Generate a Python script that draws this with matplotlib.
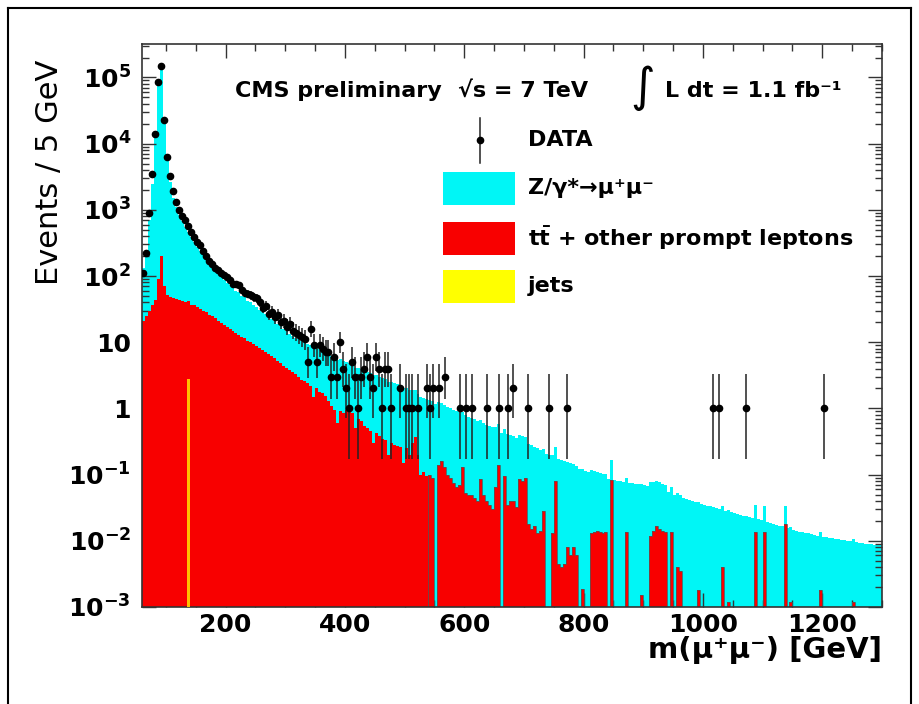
import numpy as np
import matplotlib
matplotlib.use("Agg")
import matplotlib.pyplot as plt
from matplotlib.patches import Rectangle
from matplotlib.lines import Line2D
from matplotlib.ticker import FixedLocator, LogLocator, MultipleLocator, NullFormatter

# 5 GeV bins, 60 - 1300 GeV
bin_lo = 60
bin_hi = 1300
bin_w = 5

# Z/gamma* -> mumu, one row = 10 bins (50 GeV)
dy = [
    110, 225, 670, 2460, 11950, 74900, 139800, 21930, 5450, 2550,          # 60
    1450, 1060, 800, 640, 515, 425, 350, 296, 244, 210,                    # 110
    176, 148, 130, 110, 98, 85, 77, 68, 62, 57,                            # 160
    51, 46, 43.5, 38.5, 36, 32, 30.5, 27, 25.5, 23,                        # 210
    21.5, 19.5, 18.6, 16.7, 15.5, 13.8, 12.9, 11.4, 10.5, 9.4,             # 260
    8.8, 8.2, 8.1, 7.7, 7.5, 7.0, 6.9, 7.1, 6.4, 6.0,                      # 310
    5.8, 5.5, 5.3, 5.1, 4.95, 4.8, 4.6, 4.4, 4.1, 3.9,                     # 360
    3.7, 3.55, 3.4, 3.3, 3.2, 3.1, 3.0, 2.9, 2.8, 2.65,                    # 410
    2.55, 2.45, 2.35, 2.25, 2.15, 2.05, 1.95, 1.88, 1.78, 1.7,             # 460
    1.6, 1.52, 1.46, 1.4, 1.35, 1.3, 1.25, 1.2, 1.15, 1.1,                 # 510
    1.05, 1.0, 0.96, 0.92, 0.88, 0.84, 0.8, 0.76, 0.73, 0.7,               # 560
    0.67, 0.64, 0.61, 0.58, 0.555, 0.53, 0.51, 0.49, 0.465, 0.44,          # 610
    0.42, 0.40, 0.38, 0.36, 0.345, 0.33, 0.315, 0.30, 0.285, 0.27,         # 660
    0.262, 0.245, 0.238, 0.225, 0.218, 0.205, 0.197, 0.186, 0.18, 0.17,    # 710
    0.162, 0.156, 0.148, 0.142, 0.135, 0.13, 0.123, 0.119, 0.113, 0.108,   # 760
    0.103, 0.1, 0.096, 0.094, 0.09, 0.089, 0.086, 0.084, 0.082, 0.08,      # 810
    0.079, 0.078, 0.076, 0.075, 0.074, 0.073, 0.072, 0.07, 0.069, 0.067,   # 860
    0.066, 0.064, 0.062, 0.061, 0.058, 0.056, 0.055, 0.052, 0.05, 0.048,   # 910
    0.046, 0.045, 0.043, 0.041, 0.04, 0.039, 0.037, 0.036, 0.035, 0.034,   # 960
    0.033, 0.032, 0.031, 0.030, 0.0292, 0.0284, 0.0276, 0.0268, 0.026, 0.0252,  # 1010
    0.0245, 0.024, 0.0235, 0.023, 0.0224, 0.0218, 0.0212, 0.0206, 0.02, 0.0194,  # 1060
    0.0185, 0.018, 0.0175, 0.017, 0.0165, 0.016, 0.0155, 0.015, 0.0146, 0.0142,  # 1110
    0.0138, 0.0135, 0.0132, 0.0129, 0.0126, 0.0123, 0.012, 0.0118, 0.0116, 0.0114,  # 1160
    0.0112, 0.011, 0.0108, 0.0106, 0.0104, 0.0102, 0.01, 0.0098, 0.0096, 0.0095,  # 1210
    0.0093, 0.0092, 0.009, 0.0089, 0.0088, 0.0087, 0.0086, 0.0085,              # 1260
]

# ttbar + other prompt leptons
ttbar = [
    21, 25, 30, 36, 44, 90, 200, 70, 52, 49,                               # 60
    47, 45, 44, 42, 40, 39, 37, 36, 34, 32,                                # 110
    30, 28.5, 26, 24.5, 23, 21, 19.5, 18, 17, 16,                          # 160
    15, 14, 13, 12, 11.5, 10.5, 10, 9.3, 8.7, 8.2,                         # 210
    7.6, 7.1, 6.6, 6.1, 5.7, 5.2, 4.8, 4.4, 4.1, 3.8,                      # 260
    3.6, 3.3, 3.0, 2.7, 2.6, 2.4, 2.2, 1.5, 2.0, 1.8,                      # 310
    1.7, 1.55, 1.3, 1.1, 0.95, 0.6, 0.9, 0.85, 0.95, 0.9,                  # 360
    0.85, 0.5, 0.7, 0.65, 0.55, 0.5, 0.45, 0.3, 0.42, 0.38,                # 410
    0.35, 0.33, 0.2, 0.3, 0.28, 0.27, 0.26, 0.15, 0.25, 0.2,               # 460
    0.3, 0.37, 0.2, 0.1, 0.11, 0.095, 0.1, 0.09, 0, 0.14,                  # 510
    0.16, 0.13, 0.1, 0.09, 0.075, 0.065, 0.07, 0.13, 0.052, 0.05,          # 560
    0.05, 0.045, 0.04, 0.085, 0.05, 0.04, 0.035, 0.03, 0.065, 0.14,        # 610
    0, 0.095, 0.035, 0.04, 0.04, 0.032, 0.085, 0.08, 0.09, 0.018,          # 660
    0.015, 0.017, 0.013, 0.014, 0.028, 0, 0, 0.013, 0.08, 0.0045,          # 710
    0.004, 0.0045, 0.008, 0.006, 0.008, 0.006, 0, 0.0019, 0, 0,            # 760
    0.013, 0.0135, 0.014, 0.0135, 0.013, 0.0135, 0, 0.082, 0, 0,           # 810
    0, 0, 0.0135, 0, 0, 0, 0, 0.0015, 0, 0,                                # 860
    0.012, 0.014, 0.017, 0.015, 0.014, 0.0135, 0, 0.0135, 0, 0.004,        # 910
    0.0035, 0, 0, 0, 0, 0, 0.0018, 0, 0, 0,                                # 960
    0, 0, 0, 0, 0.004, 0, 0.0012, 0, 0, 0,                                 # 1010
    0, 0, 0, 0, 0, 0.0135, 0, 0, 0.0135, 0,                                # 1060
    0, 0, 0, 0, 0, 0.018, 0, 0.0012, 0, 0,                                 # 1110
    0, 0, 0, 0, 0, 0, 0, 0.0018, 0, 0,                                     # 1160
    0, 0, 0, 0, 0, 0, 0, 0, 0.0012, 0,                                     # 1210
    0, 0, 0, 0, 0, 0, 0, 0,                                                # 1260
]

# jets (only one visible bin)
jets_mass = [135]
jets_val = [2.8]

# data counts, bins 60 .. 475
data_lo = [
    110, 220, 900, 3500, 14000, 84000, 150000, 23000, 6200, 3200,
    1900, 1300, 1000, 800, 690, 560, 470, 390, 330, 290,
    240, 200, 171, 150, 134, 122, 113, 102, 95, 86,
    77, 75, 72, 62, 56, 54, 51, 48, 46, 40,
    33, 35, 27, 29, 24, 26, 20, 21, 17, 19,
    15, 14, 13, 12, 11, 5, 16, 9, 5, 9,
    8, 7, 7, 3, 6, 3, 10, 4, 2, 1,
    5, 3, 1, 3, 4, 6, 3, 2, 6, 4,
    1, 4, 4, 1,
]
# sparse data above 480 GeV (bin low edge, count)
data_hi_mass = [490, 500, 505, 510, 520, 535, 540, 545, 555, 565, 590, 600, 610,
                635, 655, 670, 680, 705, 740, 770, 1015, 1025, 1070, 1200]
data_hi_count = [2, 1, 1, 1, 1, 2, 1, 2, 2, 3, 1, 1, 1,
                 1, 1, 1, 2, 1, 1, 1, 1, 1, 1, 1]

edges = np.arange(bin_lo, bin_hi + bin_w, bin_w)
centers = edges[:-1] + bin_w / 2
nb = len(edges) - 1
assert len(dy) == nb and len(ttbar) == nb

jets = np.zeros(nb)
for m, v in zip(jets_mass, jets_val):
    jets[(m - bin_lo) // bin_w] = v
data = np.zeros(nb)
data[:len(data_lo)] = data_lo
for m, c in zip(data_hi_mass, data_hi_count):
    data[(m - bin_lo) // bin_w] = c

red_top = np.array(ttbar) + jets
cyan_top = np.array(dy) + red_top

# poisson (garwood-like) intervals
has = data > 0
n = data[has]
lo = n * (1 - 1 / (9 * n) - 1 / (3 * np.sqrt(n))) ** 3
hi = (n + 1) * (1 - 1 / (9 * (n + 1)) + 1 / (3 * np.sqrt(n + 1))) ** 3

W, H = 920, 704


def fx(px):
    return px / W


def fy(py):
    return 1 - py / H


fig = plt.figure(figsize=(9.2, 7.04), dpi=100)
ax = fig.add_axes([fx(142), fy(607), 740 / W, 563 / H])
ax.set_yscale("log")

floor = 1e-6
ax.stairs(np.clip(cyan_top, floor, None), edges, fill=True, color="#00f6f6",
          baseline=floor, lw=0, zorder=1)
ax.stairs(np.clip(red_top, floor, None), edges, fill=True, color="#f80000",
          baseline=floor, lw=0, zorder=2)
# thin grey outline where the red histogram breaks up into spikes
k = (540 - bin_lo) // bin_w
ax.stairs(np.clip(red_top[k:], floor, None), edges[k:], color="#555555",
          baseline=floor, lw=0.7, alpha=0.8, zorder=2.5)
ax.stairs(np.clip(jets, floor, None), edges, fill=True, color="#ffbf00",
          baseline=floor, lw=0, zorder=3)
ax.errorbar(centers[has], n, yerr=[n - lo, hi - n], fmt="o", ms=4.5, color="black",
            ecolor="#222222", elinewidth=1.1, capsize=0, zorder=4)

ax.set_xlim(bin_lo, bin_hi)
ax.set_ylim(1e-3, 3.2e5)

ax.xaxis.set_major_locator(FixedLocator([200, 400, 600, 800, 1000, 1200]))
ax.xaxis.set_minor_locator(MultipleLocator(50))
ax.set_xticklabels(["200", "400", "600", "800", "1000", "1200"], fontsize=18, fontweight="bold")

yt = [1e-3, 1e-2, 1e-1, 1, 10, 1e2, 1e3, 1e4, 1e5]
ylab = [r"$\mathbf{10^{-3}}$", r"$\mathbf{10^{-2}}$", r"$\mathbf{10^{-1}}$", "1", "10",
        r"$\mathbf{10^{2}}$", r"$\mathbf{10^{3}}$", r"$\mathbf{10^{4}}$", r"$\mathbf{10^{5}}$"]
ax.yaxis.set_major_locator(FixedLocator(yt))
ax.yaxis.set_minor_locator(LogLocator(base=10, subs=np.arange(2, 10), numticks=100))
ax.yaxis.set_minor_formatter(NullFormatter())
ax.set_yticklabels(ylab, fontsize=18, fontweight="bold")

ax.tick_params(which="both", direction="in", top=True, right=True, width=1, color="#333333")
ax.tick_params(which="major", length=10)
ax.tick_params(which="minor", length=5)
ax.tick_params(axis="x", pad=4)
ax.tick_params(axis="y", pad=8)
for s in ax.spines.values():
    s.set_linewidth(1.2)
    s.set_color("#333333")

# axis titles
fig.text(fx(882), fy(650), "m(μ⁺μ⁻) [GeV]", ha="right", va="center",
         fontsize=21, fontweight="bold")
fig.text(fx(50), fy(60), "Events / 5 GeV", rotation=90, ha="center", va="top", fontsize=22)

# header
fig.text(fx(235), fy(97), "CMS preliminary", fontsize=16, fontweight="bold", va="baseline")
fig.text(fx(458), fy(97), "√s = 7 TeV", fontsize=16, fontweight="bold", va="baseline")
fig.text(fx(643), fy(88), "∫", fontsize=34, ha="center", va="center")
fig.text(fx(665), fy(97), "L dt = 1.1 fb⁻¹", fontsize=16, fontweight="bold", va="baseline")

# legend
fig.add_artist(Line2D([fx(480), fx(480)], [fy(118), fy(163)], transform=fig.transFigure,
                      color="#222222", lw=1.1))
fig.add_artist(Line2D([fx(480)], [fy(140)], transform=fig.transFigure, marker="o",
                      ms=4.5, color="black"))
fig.text(fx(528), fy(140), "DATA", fontsize=16, fontweight="bold", va="center")

boxes = [(172, "#00f6f6", "Z/γ*→μ⁺μ⁻"),
         (222, "#f80000", r"t$\mathbf{\bar{t}}$ + other prompt leptons"),
         (270, "#ffff00", "jets")]
for top, col, label in boxes:
    fig.add_artist(Rectangle((fx(443), fy(top + 33)), 72 / W, 33 / H,
                             transform=fig.transFigure, color=col, lw=0))
    fig.text(fx(528), fy(top + 16), label, fontsize=16, fontweight="bold", va="center")

# outer frame
for xs, ys in [([8, 8], [8, 704]), ([8, 911], [8, 8]), ([911, 911], [8, 704])]:
    fig.add_artist(Line2D([fx(x) for x in xs], [fy(y) for y in ys],
                          transform=fig.transFigure, color="black", lw=1.5))

fig.savefig("out.png", dpi=100)
